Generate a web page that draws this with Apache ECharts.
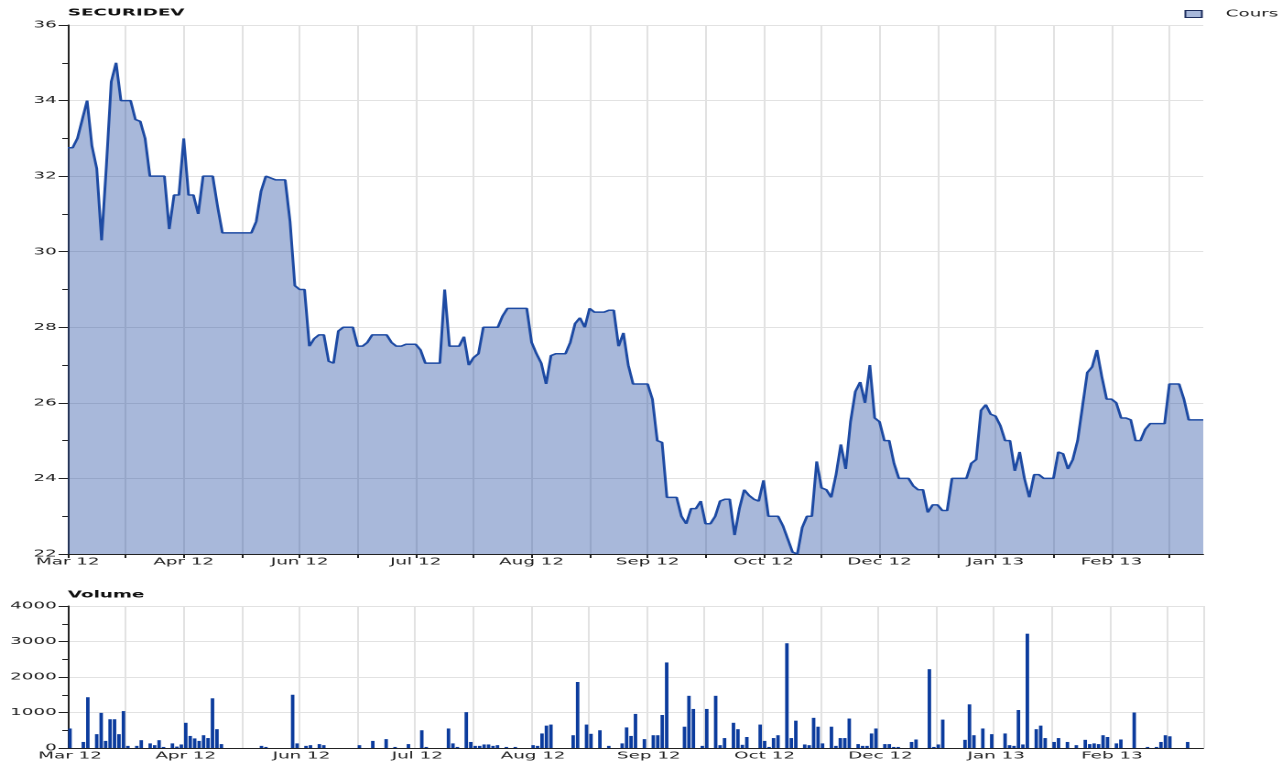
<!DOCTYPE html>
<html>
<head>
<meta charset="utf-8">
<title>SECURIDEV</title>
<script src="https://cdn.jsdelivr.net/npm/echarts@6/dist/echarts.min.js"></script>
<style>
html, body { margin: 0; padding: 0; background: #fff; overflow: hidden; }
/* the reference is a narrow chart stretched sideways, so draw narrow and stretch */
#chart-panel { width: 700px; height: 764px; transform: scaleX(1.8314); transform-origin: 0 0; }
</style>
</head>
<body>
<div id="chart-panel"></div>
<script>
var tickLabels = ['Mar 12', 'Apr 12', 'Jun 12', 'Jul 12', 'Aug 12', 'Sep 12', 'Oct 12', 'Dec 12', 'Jan 13', 'Feb 13'];

// cours, one value per session (12 per grid step)
var cours = [
    32.75, 32.75, 33.0, 33.5, 34.0, 32.8, 32.2, 30.3, 32.3, 34.5, 35.0, 34.0,
    34.0, 34.0, 33.5, 33.45, 33.0, 32.0, 32.0, 32.0, 32.0, 30.6, 31.5, 31.5,
    33.0, 31.5, 31.5, 31.0, 32.0, 32.0, 32.0, 31.2, 30.5, 30.5, 30.5, 30.5,
    30.5, 30.5, 30.5, 30.8, 31.6, 32.0, 31.95, 31.9, 31.9, 31.9, 30.8, 29.1,
    29.0, 29.0, 27.5, 27.7, 27.8, 27.8, 27.1, 27.05, 27.9, 28.0, 28.0, 28.0,
    27.5, 27.5, 27.6, 27.8, 27.8, 27.8, 27.8, 27.6, 27.5, 27.5, 27.55, 27.55,
    27.55, 27.4, 27.05, 27.05, 27.05, 27.05, 29.0, 27.5, 27.5, 27.5, 27.75, 27.0,
    27.2, 27.3, 28.0, 28.0, 28.0, 28.0, 28.3, 28.5, 28.5, 28.5, 28.5, 28.5,
    27.6, 27.3, 27.05, 26.5, 27.25, 27.3, 27.3, 27.3, 27.6, 28.1, 28.25, 28.0,
    28.5, 28.4, 28.4, 28.4, 28.45, 28.45, 27.5, 27.85, 27.0, 26.5, 26.5, 26.5,
    26.5, 26.1, 25.0, 24.95, 23.5, 23.5, 23.5, 23.0, 22.8, 23.2, 23.2, 23.4,
    22.8, 22.8, 23.0, 23.4, 23.45, 23.45, 22.5, 23.2, 23.7, 23.55, 23.45, 23.4,
    23.95, 23.0, 23.0, 23.0, 22.75, 22.4, 22.05, 22.0, 22.7, 23.0, 23.0, 24.45,
    23.75, 23.7, 23.5, 24.1, 24.9, 24.25, 25.5, 26.3, 26.55, 26.0, 27.0, 25.6,
    25.5, 25.0, 25.0, 24.4, 24.0, 24.0, 24.0, 23.8, 23.7, 23.7, 23.1, 23.3,
    23.3, 23.15, 23.15, 24.0, 24.0, 24.0, 24.0, 24.4, 24.5, 25.8, 25.95, 25.7,
    25.65, 25.4, 25.0, 25.0, 24.2, 24.7, 24.0, 23.5, 24.1, 24.1, 24.0, 24.0,
    24.0, 24.7, 24.65, 24.25, 24.5, 25.0, 25.9, 26.8, 26.95, 27.4, 26.7, 26.1,
    26.1, 26.0, 25.6, 25.6, 25.55, 25.0, 25.0, 25.3, 25.45, 25.45, 25.45, 25.45,
    26.5, 26.5, 26.5, 26.1, 25.55, 25.55, 25.55, 25.55
];

// volume, one value per session (13 per grid step)
var volume = [
    550, 0, 0, 170, 1430, 0, 390, 990, 200, 810, 810, 390, 1040,
    60, 0, 60, 220, 0, 130, 80, 220, 30, 0, 130, 40, 100,
    710, 340, 270, 200, 360, 280, 1400, 530, 110, 0, 0, 0, 0,
    0, 0, 0, 0, 60, 30, 0, 0, 0, 0, 0, 1500, 130,
    0, 60, 80, 0, 110, 80, 0, 0, 0, 0, 0, 0, 0,
    80, 0, 0, 200, 0, 0, 250, 0, 30, 0, 0, 110, 0,
    0, 500, 30, 0, 0, 0, 0, 550, 130, 30, 0, 1010, 170,
    60, 60, 100, 100, 60, 80, 0, 30, 0, 30, 0, 0, 0,
    80, 60, 410, 630, 660, 0, 0, 0, 0, 360, 1860, 0, 660,
    400, 0, 500, 0, 60, 0, 0, 130, 580, 340, 960, 0, 250,
    0, 360, 360, 930, 2410, 0, 0, 0, 600, 1470, 1100, 0, 60,
    1100, 0, 1470, 80, 280, 0, 710, 530, 90, 310, 0, 0, 660,
    200, 30, 280, 360, 0, 2950, 280, 770, 0, 100, 80, 850, 600,
    130, 0, 600, 60, 280, 280, 830, 0, 110, 60, 60, 410, 550,
    0, 110, 110, 30, 30, 0, 0, 170, 240, 0, 0, 2220, 30,
    100, 800, 0, 0, 0, 0, 230, 1230, 360, 0, 550, 0, 390,
    0, 0, 410, 80, 60, 1070, 100, 3220, 0, 530, 630, 280, 0,
    170, 280, 0, 170, 0, 80, 0, 230, 110, 130, 110, 360, 310,
    0, 130, 240, 0, 0, 1000, 0, 0, 30, 0, 30, 170, 360,
    330, 0, 0, 0, 170, 0, 0, 0
];

var coursDays = cours.map(function (v, i) { return i; });
var volumeDays = volume.map(function (v, i) { return i; });

var font = 'DejaVu Sans';
var axisColor = '#222';
var gridColor = '#e2e2e2';

function xAxisFor(gridIndex, days, step, gap) {
    return {
        type: 'category',
        gridIndex: gridIndex,
        data: days,
        boundaryGap: gap,
        axisLine: { lineStyle: { color: axisColor, width: 1 } },
        axisTick: {
            length: 4,
            interval: function (i) { return i % step === 0; },
            lineStyle: { color: axisColor }
        },
        axisLabel: {
            margin: 3,
            color: axisColor,
            fontFamily: font,
            fontSize: 10,
            interval: function (i) { return i % (step * 2) === 0; },
            formatter: function (value, index) {
                return tickLabels[index / (step * 2)] || '';
            }
        },
        splitLine: {
            show: true,
            interval: function (i) { return i % step === 0; },
            lineStyle: { color: gridColor, width: 1 }
        }
    };
}

function yAxisFor(gridIndex, min, max, step) {
    return {
        type: 'value',
        gridIndex: gridIndex,
        min: min,
        max: max,
        interval: step,
        axisLine: { show: true, lineStyle: { color: axisColor, width: 1 } },
        axisTick: { show: true, length: 5, lineStyle: { color: axisColor } },
        minorTick: { show: true, splitNumber: 2, length: 3, lineStyle: { color: axisColor } },
        axisLabel: {
            margin: 6,
            color: axisColor,
            fontFamily: font,
            fontSize: 10,
            formatter: function (value) { return String(value); }
        },
        splitLine: { show: true, lineStyle: { color: gridColor, width: 1 } }
    };
}

var chartOption = {
    backgroundColor: '#fff',
    animation: false,
    title: [{
        text: 'SECURIDEV',
        left: 37,
        top: 8,
        padding: 0,
        textStyle: { fontFamily: font, fontSize: 10, fontWeight: 'bold', color: '#111' }
    }, {
        text: 'Volume',
        left: 37,
        top: 590,
        padding: 0,
        textStyle: { fontFamily: font, fontSize: 10, fontWeight: 'bold', color: '#111' }
    }],
    legend: {
        right: 2,
        top: 9,
        padding: 0,
        itemWidth: 9,
        itemHeight: 7,
        data: [{
            name: 'Cours',
            icon: 'rect',
            itemStyle: { color: '#a8b8da', borderColor: '#1c2c5c', borderWidth: 1 }
        }],
        textStyle: { fontFamily: font, fontSize: 10, color: '#222', padding: [0, 0, 0, 8] }
    },
    grid: [
        { left: 37, right: 43, top: 25, height: 529, outerBoundsMode: 'none' },
        { left: 37, right: 43, top: 606, height: 142, outerBoundsMode: 'none' }
    ],
    xAxis: [
        xAxisFor(0, coursDays, 12, false),
        xAxisFor(1, volumeDays, 13, true)
    ],
    yAxis: [
        yAxisFor(0, 22, 36, 2),
        yAxisFor(1, 0, 4000, 1000)
    ],
    series: [{
        name: 'Cours',
        type: 'line',
        xAxisIndex: 0,
        yAxisIndex: 0,
        data: cours,
        symbol: 'none',
        lineStyle: { color: '#1d4aa3', width: 1.5 },
        itemStyle: { color: '#1d4aa3' },
        areaStyle: { color: 'rgba(37, 77, 162, 0.4)', opacity: 1, origin: 'start' }
    }, {
        name: 'Volume',
        type: 'bar',
        xAxisIndex: 1,
        yAxisIndex: 1,
        data: volume,
        barWidth: '78%',
        itemStyle: { color: '#0b3b9d' }
    }]
};

var chartPanel = document.getElementById('chart-panel');
var myChart = echarts.init(chartPanel, null, { devicePixelRatio: 2 });
myChart.setOption(chartOption);
</script>
</body>
</html>
